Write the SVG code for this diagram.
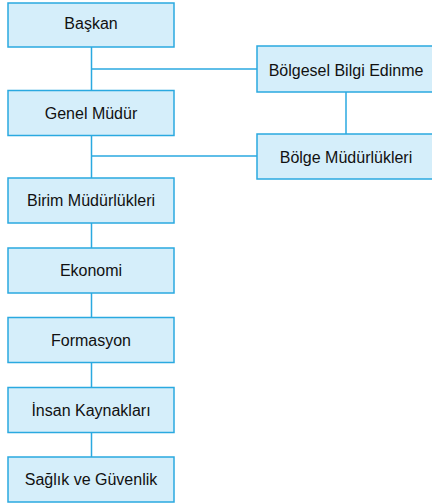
<svg xmlns="http://www.w3.org/2000/svg" width="432" height="503" viewBox="0 0 432 503">
<style>
.box{fill:#d5eefa;stroke:#2aa9e0;stroke-width:1.5}
.lbl{font-family:"Liberation Sans",Arial,sans-serif;font-size:16px;fill:#111;text-anchor:middle}
.con{stroke:#2aa9e0;stroke-width:1.5;fill:none}
</style>
<rect width="432" height="503" fill="#fff"/>
<g id="connectors">
<line class="con" x1="91.5" y1="47" x2="91.5" y2="457"/>
<line class="con" x1="91.5" y1="69" x2="257" y2="69"/>
<line class="con" x1="91.5" y1="156" x2="257" y2="156"/>
<line class="con" x1="346" y1="92" x2="346" y2="134"/>
</g>
<g id="baskan"><rect class="box" x="8" y="3" width="166" height="44"/><text class="lbl" x="91" y="29">Başkan</text></g>
<g id="genel-mudur"><rect class="box" x="8" y="90.5" width="166" height="45"/><text class="lbl" x="91" y="118.5">Genel Müdür</text></g>
<g id="birim"><rect class="box" x="8" y="178" width="166" height="45"/><text class="lbl" x="91" y="206">Birim Müdürlükleri</text></g>
<g id="ekonomi"><rect class="box" x="8" y="248" width="166" height="45"/><text class="lbl" x="91" y="276">Ekonomi</text></g>
<g id="formasyon"><rect class="box" x="8" y="317.5" width="166" height="45"/><text class="lbl" x="91" y="345.5">Formasyon</text></g>
<g id="insan"><rect class="box" x="8" y="387.5" width="166" height="45"/><text class="lbl" x="91" y="415.5">İnsan Kaynakları</text></g>
<g id="saglik"><rect class="box" x="8" y="457" width="166" height="45"/><text class="lbl" x="91" y="485">Sağlık ve Güvenlik</text></g>
<g id="bolgesel"><rect class="box" x="257" y="46" width="178" height="46"/><text class="lbl" x="346" y="75.5">Bölgesel Bilgi Edinme</text></g>
<g id="bolge-mud"><rect class="box" x="257" y="134" width="178" height="45"/><text class="lbl" x="346" y="162.5">Bölge Müdürlükleri</text></g>
</svg>
